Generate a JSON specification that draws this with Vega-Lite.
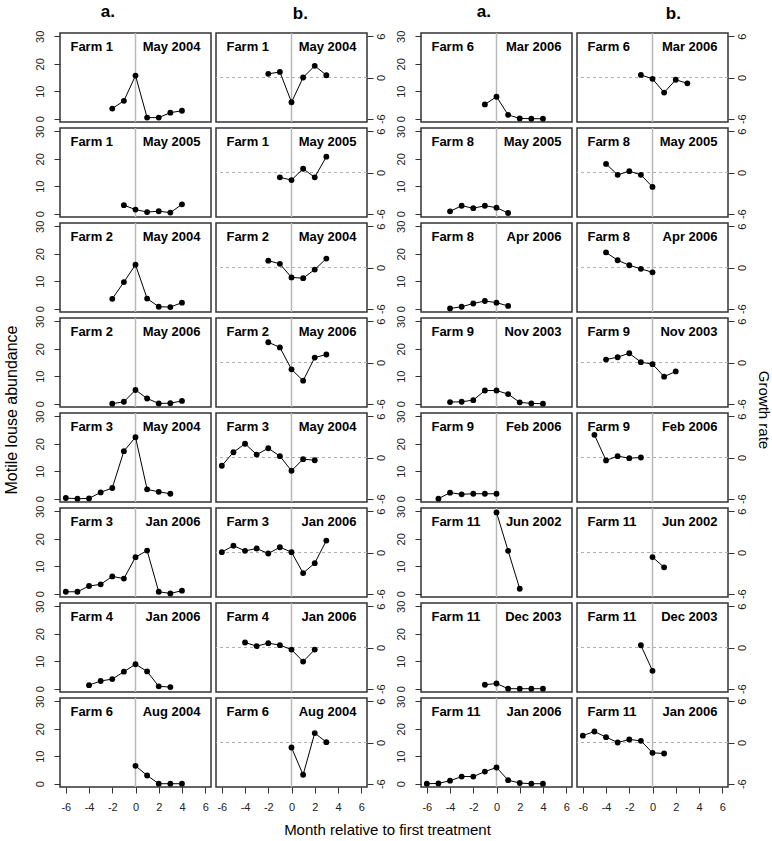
{
  "$schema": "https://vega.github.io/schema/vega-lite/v6.json",
  "padding": {"left": 3, "top": 3, "right": 2, "bottom": 2},
  "background": "white",
  "config": {
    "font": "Liberation Sans",
    "view": {"stroke": "#333", "strokeWidth": 1.5},
    "facet": {"spacing": 6},
    "axis": {"grid": false, "domain": false, "tickColor": "#333", "tickSize": 6, "labelFontSize": 11, "labelColor": "#222", "labelFont": "Liberation Sans", "title": null},
    "title": {"fontSize": 17, "fontWeight": "bold", "color": "black", "font": "Liberation Sans", "anchor": "middle"}
  },
  "datasets": {
    "panels": [
      {"p": "L1", "side": "L", "row": 1, "farm": "Farm 1", "date": "May 2004"},
      {"p": "L2", "side": "L", "row": 2, "farm": "Farm 1", "date": "May 2005"},
      {"p": "L3", "side": "L", "row": 3, "farm": "Farm 2", "date": "May 2004"},
      {"p": "L4", "side": "L", "row": 4, "farm": "Farm 2", "date": "May 2006"},
      {"p": "L5", "side": "L", "row": 5, "farm": "Farm 3", "date": "May 2004"},
      {"p": "L6", "side": "L", "row": 6, "farm": "Farm 3", "date": "Jan 2006"},
      {"p": "L7", "side": "L", "row": 7, "farm": "Farm 4", "date": "Jan 2006"},
      {"p": "L8", "side": "L", "row": 8, "farm": "Farm 6", "date": "Aug 2004"},
      {"p": "R1", "side": "R", "row": 1, "farm": "Farm 6", "date": "Mar 2006"},
      {"p": "R2", "side": "R", "row": 2, "farm": "Farm 8", "date": "May 2005"},
      {"p": "R3", "side": "R", "row": 3, "farm": "Farm 8", "date": "Apr 2006"},
      {"p": "R4", "side": "R", "row": 4, "farm": "Farm 9", "date": "Nov 2003"},
      {"p": "R5", "side": "R", "row": 5, "farm": "Farm 9", "date": "Feb 2006"},
      {"p": "R6", "side": "R", "row": 6, "farm": "Farm 11", "date": "Jun 2002"},
      {"p": "R7", "side": "R", "row": 7, "farm": "Farm 11", "date": "Dec 2003"},
      {"p": "R8", "side": "R", "row": 8, "farm": "Farm 11", "date": "Jan 2006"}
    ],
    "ab": [
      {"p": "L1", "m": -2, "v": 3.7}, {"p": "L1", "m": -1, "v": 6.5}, {"p": "L1", "m": 0, "v": 15.7}, {"p": "L1", "m": 1, "v": 0.4}, {"p": "L1", "m": 2, "v": 0.4}, {"p": "L1", "m": 3, "v": 2.2}, {"p": "L1", "m": 4, "v": 2.9},
      {"p": "L2", "m": -1, "v": 3.1}, {"p": "L2", "m": 0, "v": 1.5}, {"p": "L2", "m": 1, "v": 0.6}, {"p": "L2", "m": 2, "v": 0.9}, {"p": "L2", "m": 3, "v": 0.4}, {"p": "L2", "m": 4, "v": 3.4},
      {"p": "L3", "m": -2, "v": 3.6}, {"p": "L3", "m": -1, "v": 9.7}, {"p": "L3", "m": 0, "v": 16.0}, {"p": "L3", "m": 1, "v": 3.7}, {"p": "L3", "m": 2, "v": 0.7}, {"p": "L3", "m": 3, "v": 0.6}, {"p": "L3", "m": 4, "v": 2.2},
      {"p": "L4", "m": -2, "v": 0.0}, {"p": "L4", "m": -1, "v": 0.7}, {"p": "L4", "m": 0, "v": 5.0}, {"p": "L4", "m": 1, "v": 1.9}, {"p": "L4", "m": 2, "v": 0.1}, {"p": "L4", "m": 3, "v": 0.2}, {"p": "L4", "m": 4, "v": 1.0},
      {"p": "L5", "m": -6, "v": 0.25}, {"p": "L5", "m": -5, "v": 0.0}, {"p": "L5", "m": -4, "v": 0.1}, {"p": "L5", "m": -3, "v": 2.3}, {"p": "L5", "m": -2, "v": 3.9}, {"p": "L5", "m": -1, "v": 17.3}, {"p": "L5", "m": 0, "v": 22.4}, {"p": "L5", "m": 1, "v": 3.4}, {"p": "L5", "m": 2, "v": 2.5}, {"p": "L5", "m": 3, "v": 1.8},
      {"p": "L6", "m": -6, "v": 0.7}, {"p": "L6", "m": -5, "v": 0.7}, {"p": "L6", "m": -4, "v": 2.8}, {"p": "L6", "m": -3, "v": 3.4}, {"p": "L6", "m": -2, "v": 6.3}, {"p": "L6", "m": -1, "v": 5.5}, {"p": "L6", "m": 0, "v": 13.3}, {"p": "L6", "m": 1, "v": 15.7}, {"p": "L6", "m": 2, "v": 0.7}, {"p": "L6", "m": 3, "v": 0.1}, {"p": "L6", "m": 4, "v": 1.1},
      {"p": "L7", "m": -4, "v": 1.3}, {"p": "L7", "m": -3, "v": 2.8}, {"p": "L7", "m": -2, "v": 3.5}, {"p": "L7", "m": -1, "v": 6.2}, {"p": "L7", "m": 0, "v": 8.9}, {"p": "L7", "m": 1, "v": 6.3}, {"p": "L7", "m": 2, "v": 0.85}, {"p": "L7", "m": 3, "v": 0.6},
      {"p": "L8", "m": 0, "v": 6.5}, {"p": "L8", "m": 1, "v": 3.0}, {"p": "L8", "m": 2, "v": 0.0}, {"p": "L8", "m": 3, "v": 0.0}, {"p": "L8", "m": 4, "v": 0.0},
      {"p": "R1", "m": -1, "v": 5.2}, {"p": "R1", "m": 0, "v": 8.0}, {"p": "R1", "m": 1, "v": 1.4}, {"p": "R1", "m": 2, "v": 0.1}, {"p": "R1", "m": 3, "v": 0.0}, {"p": "R1", "m": 4, "v": 0.0},
      {"p": "R2", "m": -4, "v": 0.85}, {"p": "R2", "m": -3, "v": 2.9}, {"p": "R2", "m": -2, "v": 2.0}, {"p": "R2", "m": -1, "v": 2.9}, {"p": "R2", "m": 0, "v": 2.2}, {"p": "R2", "m": 1, "v": 0.25},
      {"p": "R3", "m": -4, "v": 0.1}, {"p": "R3", "m": -3, "v": 0.7}, {"p": "R3", "m": -2, "v": 1.9}, {"p": "R3", "m": -1, "v": 2.8}, {"p": "R3", "m": 0, "v": 2.2}, {"p": "R3", "m": 1, "v": 1.0},
      {"p": "R4", "m": -4, "v": 0.6}, {"p": "R4", "m": -3, "v": 0.7}, {"p": "R4", "m": -2, "v": 1.3}, {"p": "R4", "m": -1, "v": 4.8}, {"p": "R4", "m": 0, "v": 4.8}, {"p": "R4", "m": 1, "v": 3.5}, {"p": "R4", "m": 2, "v": 0.5}, {"p": "R4", "m": 3, "v": 0.1}, {"p": "R4", "m": 4, "v": 0.0},
      {"p": "R5", "m": -5, "v": 0.0}, {"p": "R5", "m": -4, "v": 2.2}, {"p": "R5", "m": -3, "v": 1.6}, {"p": "R5", "m": -2, "v": 1.8}, {"p": "R5", "m": -1, "v": 1.8}, {"p": "R5", "m": 0, "v": 1.8},
      {"p": "R6", "m": 0, "v": 29.6}, {"p": "R6", "m": 1, "v": 15.6}, {"p": "R6", "m": 2, "v": 1.8},
      {"p": "R7", "m": -1, "v": 1.45}, {"p": "R7", "m": 0, "v": 1.9}, {"p": "R7", "m": 1, "v": 0.0}, {"p": "R7", "m": 2, "v": 0.0}, {"p": "R7", "m": 3, "v": 0.0}, {"p": "R7", "m": 4, "v": 0.0},
      {"p": "R8", "m": -6, "v": 0.0}, {"p": "R8", "m": -5, "v": 0.1}, {"p": "R8", "m": -4, "v": 1.1}, {"p": "R8", "m": -3, "v": 2.6}, {"p": "R8", "m": -2, "v": 2.6}, {"p": "R8", "m": -1, "v": 4.4}, {"p": "R8", "m": 0, "v": 5.9}, {"p": "R8", "m": 1, "v": 1.3}, {"p": "R8", "m": 2, "v": 0.25}, {"p": "R8", "m": 3, "v": 0.0}, {"p": "R8", "m": 4, "v": 0.0}
    ],
    "gr": [
      {"p": "L1", "m": -2, "v": 0.53}, {"p": "L1", "m": -1, "v": 0.81}, {"p": "L1", "m": 0, "v": -3.6}, {"p": "L1", "m": 1, "v": 0.0}, {"p": "L1", "m": 2, "v": 1.7}, {"p": "L1", "m": 3, "v": 0.33},
      {"p": "L2", "m": -1, "v": -0.7}, {"p": "L2", "m": 0, "v": -1.1}, {"p": "L2", "m": 1, "v": 0.55}, {"p": "L2", "m": 2, "v": -0.7}, {"p": "L2", "m": 3, "v": 2.3},
      {"p": "L3", "m": -2, "v": 1.0}, {"p": "L3", "m": -1, "v": 0.53}, {"p": "L3", "m": 0, "v": -1.45}, {"p": "L3", "m": 1, "v": -1.55}, {"p": "L3", "m": 2, "v": -0.3}, {"p": "L3", "m": 3, "v": 1.3},
      {"p": "L4", "m": -2, "v": 2.95}, {"p": "L4", "m": -1, "v": 2.2}, {"p": "L4", "m": 0, "v": -1.0}, {"p": "L4", "m": 1, "v": -2.65}, {"p": "L4", "m": 2, "v": 0.72}, {"p": "L4", "m": 3, "v": 1.16},
      {"p": "L5", "m": -6, "v": -1.2}, {"p": "L5", "m": -5, "v": 0.77}, {"p": "L5", "m": -4, "v": 2.0}, {"p": "L5", "m": -3, "v": 0.43}, {"p": "L5", "m": -2, "v": 1.35}, {"p": "L5", "m": -1, "v": 0.2}, {"p": "L5", "m": 0, "v": -1.93}, {"p": "L5", "m": 1, "v": -0.24}, {"p": "L5", "m": 2, "v": -0.4},
      {"p": "L6", "m": -6, "v": 0.05}, {"p": "L6", "m": -5, "v": 1.0}, {"p": "L6", "m": -4, "v": 0.24}, {"p": "L6", "m": -3, "v": 0.58}, {"p": "L6", "m": -2, "v": -0.15}, {"p": "L6", "m": -1, "v": 0.77}, {"p": "L6", "m": 0, "v": 0.05}, {"p": "L6", "m": 1, "v": -3.0}, {"p": "L6", "m": 2, "v": -1.55}, {"p": "L6", "m": 3, "v": 1.74},
      {"p": "L7", "m": -4, "v": 0.73}, {"p": "L7", "m": -3, "v": 0.2}, {"p": "L7", "m": -2, "v": 0.63}, {"p": "L7", "m": -1, "v": 0.34}, {"p": "L7", "m": 0, "v": -0.3}, {"p": "L7", "m": 1, "v": -2.05}, {"p": "L7", "m": 2, "v": -0.3},
      {"p": "L8", "m": 0, "v": -0.73}, {"p": "L8", "m": 1, "v": -4.7}, {"p": "L8", "m": 2, "v": 1.37}, {"p": "L8", "m": 3, "v": 0.05},
      {"p": "R1", "m": -1, "v": 0.38}, {"p": "R1", "m": 0, "v": -0.2}, {"p": "R1", "m": 1, "v": -2.2}, {"p": "R1", "m": 2, "v": -0.33}, {"p": "R1", "m": 3, "v": -0.85},
      {"p": "R2", "m": -4, "v": 1.25}, {"p": "R2", "m": -3, "v": -0.34}, {"p": "R2", "m": -2, "v": 0.2}, {"p": "R2", "m": -1, "v": -0.34}, {"p": "R2", "m": 0, "v": -2.1},
      {"p": "R3", "m": -4, "v": 2.2}, {"p": "R3", "m": -3, "v": 1.05}, {"p": "R3", "m": -2, "v": 0.33}, {"p": "R3", "m": -1, "v": -0.2}, {"p": "R3", "m": 0, "v": -0.7},
      {"p": "R4", "m": -4, "v": 0.43}, {"p": "R4", "m": -3, "v": 0.77}, {"p": "R4", "m": -2, "v": 1.35}, {"p": "R4", "m": -1, "v": 0.05}, {"p": "R4", "m": 0, "v": -0.24}, {"p": "R4", "m": 1, "v": -2.06}, {"p": "R4", "m": 2, "v": -1.3},
      {"p": "R5", "m": -5, "v": 3.3}, {"p": "R5", "m": -4, "v": -0.43}, {"p": "R5", "m": -3, "v": 0.2}, {"p": "R5", "m": -2, "v": -0.1}, {"p": "R5", "m": -1, "v": 0.0},
      {"p": "R6", "m": 0, "v": -0.67}, {"p": "R6", "m": 1, "v": -2.16},
      {"p": "R7", "m": -1, "v": 0.33}, {"p": "R7", "m": 0, "v": -3.4},
      {"p": "R8", "m": -6, "v": 1.0}, {"p": "R8", "m": -5, "v": 1.6}, {"p": "R8", "m": -4, "v": 0.78}, {"p": "R8", "m": -3, "v": 0.0}, {"p": "R8", "m": -2, "v": 0.44}, {"p": "R8", "m": -1, "v": 0.24}, {"p": "R8", "m": 0, "v": -1.5}, {"p": "R8", "m": 1, "v": -1.6}
    ]
  },
  "title": {"text": "Month relative to first treatment", "orient": "bottom", "anchor": "middle", "fontSize": 15, "fontWeight": "normal", "offset": 11},
  "spacing": 9,
  "hconcat": [
    {
      "spacing": 2,
      "hconcat": [
        {
          "title": {"text": "a.", "offset": 9, "anchor": "middle"},
          "data": {"name": "ab"},
          "transform": [
            {"lookup": "p", "from": {"data": {"name": "panels"}, "key": "p", "fields": ["side", "row", "farm", "date"]}},
            {"filter": "datum.side == 'L'"}
          ],
          "facet": {"row": {"field": "row", "type": "ordinal", "header": {"labels": false, "title": "Motile louse abundance", "titleFontSize": 16, "titleFontWeight": "normal", "titlePadding": 4}}},
          "spacing": {"row": 6},
          "bounds": "flush",
          "spec": {
            "width": 151, "height": 89,
            "layer": [
              {"mark": {"type": "rule", "color": "#b8b8b8", "strokeWidth": 1.5},
               "transform": [{"aggregate": [{"op": "count", "as": "n"}], "groupby": ["row"]}],
               "encoding": {"x": {"datum": 0, "type": "quantitative", "scale": {"domain": [-6.5, 6.5], "nice": false, "zero": false}, "axis": {"values": [-6, -4, -2, 0, 2, 4, 6], "labelPadding": 8, "labelFlush": false, "labelExpr": "'' + datum.value", "title": null}}}},
              {"mark": {"type": "line", "color": "black", "strokeWidth": 1, "point": {"filled": true, "color": "black", "size": 34, "opacity": 1}},
               "encoding": {
                 "x": {"field": "m", "type": "quantitative", "scale": {"domain": [-6.5, 6.5], "nice": false, "zero": false}, "axis": {"values": [-6, -4, -2, 0, 2, 4, 6], "labelPadding": 8, "labelFlush": false, "labelExpr": "'' + datum.value", "title": null}},
                 "y": {"field": "v", "type": "quantitative", "scale": {"domain": [-1.2, 31.2], "nice": false, "zero": false}, "axis": {"values": [0, 10, 20, 30], "labelAngle": 270, "labelPadding": 9, "title": null}}}},
              {"mark": {"type": "text", "align": "left", "baseline": "middle", "fontWeight": "bold", "fontSize": 13, "color": "black"},
               "transform": [{"aggregate": [{"op": "count", "as": "n"}], "groupby": ["row", "farm"]}],
               "encoding": {"x": {"datum": -5.6, "type": "quantitative", "scale": {"domain": [-6.5, 6.5], "nice": false, "zero": false}, "axis": {"values": [-6, -4, -2, 0, 2, 4, 6], "labelPadding": 8, "labelFlush": false, "labelExpr": "'' + datum.value", "title": null}},
                            "y": {"datum": 26, "type": "quantitative", "scale": {"domain": [-1.2, 31.2], "nice": false, "zero": false}, "axis": {"values": [0, 10, 20, 30], "labelAngle": 270, "labelPadding": 9, "title": null}},
                            "text": {"field": "farm"}}},
              {"mark": {"type": "text", "align": "right", "baseline": "middle", "fontWeight": "bold", "fontSize": 13, "color": "black"},
               "transform": [{"aggregate": [{"op": "count", "as": "n"}], "groupby": ["row", "date"]}],
               "encoding": {"x": {"datum": 5.6, "type": "quantitative", "scale": {"domain": [-6.5, 6.5], "nice": false, "zero": false}, "axis": {"values": [-6, -4, -2, 0, 2, 4, 6], "labelPadding": 8, "labelFlush": false, "labelExpr": "'' + datum.value", "title": null}},
                            "y": {"datum": 26, "type": "quantitative", "scale": {"domain": [-1.2, 31.2], "nice": false, "zero": false}, "axis": {"values": [0, 10, 20, 30], "labelAngle": 270, "labelPadding": 9, "title": null}},
                            "text": {"field": "date"}}}
            ]
          }
        },
        {
          "title": {"text": "b.", "offset": 9, "anchor": "middle"},
          "data": {"name": "gr"},
          "transform": [
            {"lookup": "p", "from": {"data": {"name": "panels"}, "key": "p", "fields": ["side", "row", "farm", "date"]}},
            {"filter": "datum.side == 'L'"}
          ],
          "facet": {"row": {"field": "row", "type": "ordinal", "header": {"labels": false, "title": null}}},
          "spacing": {"row": 6},
          "bounds": "flush",
          "spec": {
            "width": 151, "height": 89,
            "layer": [
              {"mark": {"type": "rule", "color": "#b8b8b8", "strokeWidth": 1.5},
               "transform": [{"aggregate": [{"op": "count", "as": "n"}], "groupby": ["row"]}],
               "encoding": {"x": {"datum": 0, "type": "quantitative", "scale": {"domain": [-6.5, 6.5], "nice": false, "zero": false}, "axis": {"values": [-6, -4, -2, 0, 2, 4, 6], "labelPadding": 8, "labelFlush": false, "labelExpr": "'' + datum.value", "title": null}}}},
              {"mark": {"type": "rule", "color": "#b0b0b0", "strokeWidth": 1, "strokeDash": [3, 3]},
               "transform": [{"aggregate": [{"op": "count", "as": "n"}], "groupby": ["row"]}],
               "encoding": {"y": {"datum": 0, "type": "quantitative", "scale": {"domain": [-6.48, 6.48], "nice": false, "zero": false}, "axis": {"orient": "right", "values": [-6, 0, 6], "labelAngle": 270, "labelPadding": 2, "labelExpr": "'' + datum.value", "title": null}}}},
              {"mark": {"type": "line", "color": "black", "strokeWidth": 1, "point": {"filled": true, "color": "black", "size": 34, "opacity": 1}},
               "encoding": {
                 "x": {"field": "m", "type": "quantitative", "scale": {"domain": [-6.5, 6.5], "nice": false, "zero": false}, "axis": {"values": [-6, -4, -2, 0, 2, 4, 6], "labelPadding": 8, "labelFlush": false, "labelExpr": "'' + datum.value", "title": null}},
                 "y": {"field": "v", "type": "quantitative", "scale": {"domain": [-6.48, 6.48], "nice": false, "zero": false}, "axis": {"orient": "right", "values": [-6, 0, 6], "labelAngle": 270, "labelPadding": 2, "labelExpr": "'' + datum.value", "title": null}}}},
              {"mark": {"type": "text", "align": "left", "baseline": "middle", "fontWeight": "bold", "fontSize": 13, "color": "black"},
               "transform": [{"aggregate": [{"op": "count", "as": "n"}], "groupby": ["row", "farm"]}],
               "encoding": {"x": {"datum": -5.6, "type": "quantitative", "scale": {"domain": [-6.5, 6.5], "nice": false, "zero": false}, "axis": {"values": [-6, -4, -2, 0, 2, 4, 6], "labelPadding": 8, "labelFlush": false, "labelExpr": "'' + datum.value", "title": null}},
                            "y": {"datum": 4.4, "type": "quantitative", "scale": {"domain": [-6.48, 6.48], "nice": false, "zero": false}, "axis": {"orient": "right", "values": [-6, 0, 6], "labelAngle": 270, "labelPadding": 2, "labelExpr": "'' + datum.value", "title": null}},
                            "text": {"field": "farm"}}},
              {"mark": {"type": "text", "align": "right", "baseline": "middle", "fontWeight": "bold", "fontSize": 13, "color": "black"},
               "transform": [{"aggregate": [{"op": "count", "as": "n"}], "groupby": ["row", "date"]}],
               "encoding": {"x": {"datum": 5.6, "type": "quantitative", "scale": {"domain": [-6.5, 6.5], "nice": false, "zero": false}, "axis": {"values": [-6, -4, -2, 0, 2, 4, 6], "labelPadding": 8, "labelFlush": false, "labelExpr": "'' + datum.value", "title": null}},
                            "y": {"datum": 4.4, "type": "quantitative", "scale": {"domain": [-6.48, 6.48], "nice": false, "zero": false}, "axis": {"orient": "right", "values": [-6, 0, 6], "labelAngle": 270, "labelPadding": 2, "labelExpr": "'' + datum.value", "title": null}},
                            "text": {"field": "date"}}}
            ]
          }
        }
      ]
    },
    {
      "spacing": 2,
      "hconcat": [
        {
          "title": {"text": "a.", "offset": 9, "anchor": "middle"},
          "data": {"name": "ab"},
          "transform": [
            {"lookup": "p", "from": {"data": {"name": "panels"}, "key": "p", "fields": ["side", "row", "farm", "date"]}},
            {"filter": "datum.side == 'R'"}
          ],
          "facet": {"row": {"field": "row", "type": "ordinal", "header": {"labels": false, "title": null}}},
          "spacing": {"row": 6},
          "bounds": "flush",
          "spec": {
            "width": 151, "height": 89,
            "layer": [
              {"mark": {"type": "rule", "color": "#b8b8b8", "strokeWidth": 1.5},
               "transform": [{"aggregate": [{"op": "count", "as": "n"}], "groupby": ["row"]}],
               "encoding": {"x": {"datum": 0, "type": "quantitative", "scale": {"domain": [-6.5, 6.5], "nice": false, "zero": false}, "axis": {"values": [-6, -4, -2, 0, 2, 4, 6], "labelPadding": 8, "labelFlush": false, "labelExpr": "'' + datum.value", "title": null}}}},
              {"mark": {"type": "line", "color": "black", "strokeWidth": 1, "point": {"filled": true, "color": "black", "size": 34, "opacity": 1}},
               "encoding": {
                 "x": {"field": "m", "type": "quantitative", "scale": {"domain": [-6.5, 6.5], "nice": false, "zero": false}, "axis": {"values": [-6, -4, -2, 0, 2, 4, 6], "labelPadding": 8, "labelFlush": false, "labelExpr": "'' + datum.value", "title": null}},
                 "y": {"field": "v", "type": "quantitative", "scale": {"domain": [-1.2, 31.2], "nice": false, "zero": false}, "axis": {"values": [0, 10, 20, 30], "labelAngle": 270, "labelPadding": 9, "title": null}}}},
              {"mark": {"type": "text", "align": "left", "baseline": "middle", "fontWeight": "bold", "fontSize": 13, "color": "black"},
               "transform": [{"aggregate": [{"op": "count", "as": "n"}], "groupby": ["row", "farm"]}],
               "encoding": {"x": {"datum": -5.6, "type": "quantitative", "scale": {"domain": [-6.5, 6.5], "nice": false, "zero": false}, "axis": {"values": [-6, -4, -2, 0, 2, 4, 6], "labelPadding": 8, "labelFlush": false, "labelExpr": "'' + datum.value", "title": null}},
                            "y": {"datum": 26, "type": "quantitative", "scale": {"domain": [-1.2, 31.2], "nice": false, "zero": false}, "axis": {"values": [0, 10, 20, 30], "labelAngle": 270, "labelPadding": 9, "title": null}},
                            "text": {"field": "farm"}}},
              {"mark": {"type": "text", "align": "right", "baseline": "middle", "fontWeight": "bold", "fontSize": 13, "color": "black"},
               "transform": [{"aggregate": [{"op": "count", "as": "n"}], "groupby": ["row", "date"]}],
               "encoding": {"x": {"datum": 5.6, "type": "quantitative", "scale": {"domain": [-6.5, 6.5], "nice": false, "zero": false}, "axis": {"values": [-6, -4, -2, 0, 2, 4, 6], "labelPadding": 8, "labelFlush": false, "labelExpr": "'' + datum.value", "title": null}},
                            "y": {"datum": 26, "type": "quantitative", "scale": {"domain": [-1.2, 31.2], "nice": false, "zero": false}, "axis": {"values": [0, 10, 20, 30], "labelAngle": 270, "labelPadding": 9, "title": null}},
                            "text": {"field": "date"}}}
            ]
          }
        },
        {
          "title": {"text": "b.", "offset": 9, "anchor": "middle"},
          "data": {"name": "gr"},
          "transform": [
            {"lookup": "p", "from": {"data": {"name": "panels"}, "key": "p", "fields": ["side", "row", "farm", "date"]}},
            {"filter": "datum.side == 'R'"}
          ],
          "facet": {"row": {"field": "row", "type": "ordinal", "header": {"labels": false, "title": "Growth rate", "titleOrient": "right", "titleAngle": 90, "titleFontSize": 15, "titleFontWeight": "normal", "titlePadding": -1}}},
          "spacing": {"row": 6},
          "bounds": "flush",
          "spec": {
            "width": 151, "height": 89,
            "layer": [
              {"mark": {"type": "rule", "color": "#b8b8b8", "strokeWidth": 1.5},
               "transform": [{"aggregate": [{"op": "count", "as": "n"}], "groupby": ["row"]}],
               "encoding": {"x": {"datum": 0, "type": "quantitative", "scale": {"domain": [-6.5, 6.5], "nice": false, "zero": false}, "axis": {"values": [-6, -4, -2, 0, 2, 4, 6], "labelPadding": 8, "labelFlush": false, "labelExpr": "'' + datum.value", "title": null}}}},
              {"mark": {"type": "rule", "color": "#b0b0b0", "strokeWidth": 1, "strokeDash": [3, 3]},
               "transform": [{"aggregate": [{"op": "count", "as": "n"}], "groupby": ["row"]}],
               "encoding": {"y": {"datum": 0, "type": "quantitative", "scale": {"domain": [-6.48, 6.48], "nice": false, "zero": false}, "axis": {"orient": "right", "values": [-6, 0, 6], "labelAngle": 270, "labelPadding": 2, "labelExpr": "'' + datum.value", "title": null}}}},
              {"mark": {"type": "line", "color": "black", "strokeWidth": 1, "point": {"filled": true, "color": "black", "size": 34, "opacity": 1}},
               "encoding": {
                 "x": {"field": "m", "type": "quantitative", "scale": {"domain": [-6.5, 6.5], "nice": false, "zero": false}, "axis": {"values": [-6, -4, -2, 0, 2, 4, 6], "labelPadding": 8, "labelFlush": false, "labelExpr": "'' + datum.value", "title": null}},
                 "y": {"field": "v", "type": "quantitative", "scale": {"domain": [-6.48, 6.48], "nice": false, "zero": false}, "axis": {"orient": "right", "values": [-6, 0, 6], "labelAngle": 270, "labelPadding": 2, "labelExpr": "'' + datum.value", "title": null}}}},
              {"mark": {"type": "text", "align": "left", "baseline": "middle", "fontWeight": "bold", "fontSize": 13, "color": "black"},
               "transform": [{"aggregate": [{"op": "count", "as": "n"}], "groupby": ["row", "farm"]}],
               "encoding": {"x": {"datum": -5.6, "type": "quantitative", "scale": {"domain": [-6.5, 6.5], "nice": false, "zero": false}, "axis": {"values": [-6, -4, -2, 0, 2, 4, 6], "labelPadding": 8, "labelFlush": false, "labelExpr": "'' + datum.value", "title": null}},
                            "y": {"datum": 4.4, "type": "quantitative", "scale": {"domain": [-6.48, 6.48], "nice": false, "zero": false}, "axis": {"orient": "right", "values": [-6, 0, 6], "labelAngle": 270, "labelPadding": 2, "labelExpr": "'' + datum.value", "title": null}},
                            "text": {"field": "farm"}}},
              {"mark": {"type": "text", "align": "right", "baseline": "middle", "fontWeight": "bold", "fontSize": 13, "color": "black"},
               "transform": [{"aggregate": [{"op": "count", "as": "n"}], "groupby": ["row", "date"]}],
               "encoding": {"x": {"datum": 5.6, "type": "quantitative", "scale": {"domain": [-6.5, 6.5], "nice": false, "zero": false}, "axis": {"values": [-6, -4, -2, 0, 2, 4, 6], "labelPadding": 8, "labelFlush": false, "labelExpr": "'' + datum.value", "title": null}},
                            "y": {"datum": 4.4, "type": "quantitative", "scale": {"domain": [-6.48, 6.48], "nice": false, "zero": false}, "axis": {"orient": "right", "values": [-6, 0, 6], "labelAngle": 270, "labelPadding": 2, "labelExpr": "'' + datum.value", "title": null}},
                            "text": {"field": "date"}}}
            ]
          }
        }
      ]
    }
  ]
}
